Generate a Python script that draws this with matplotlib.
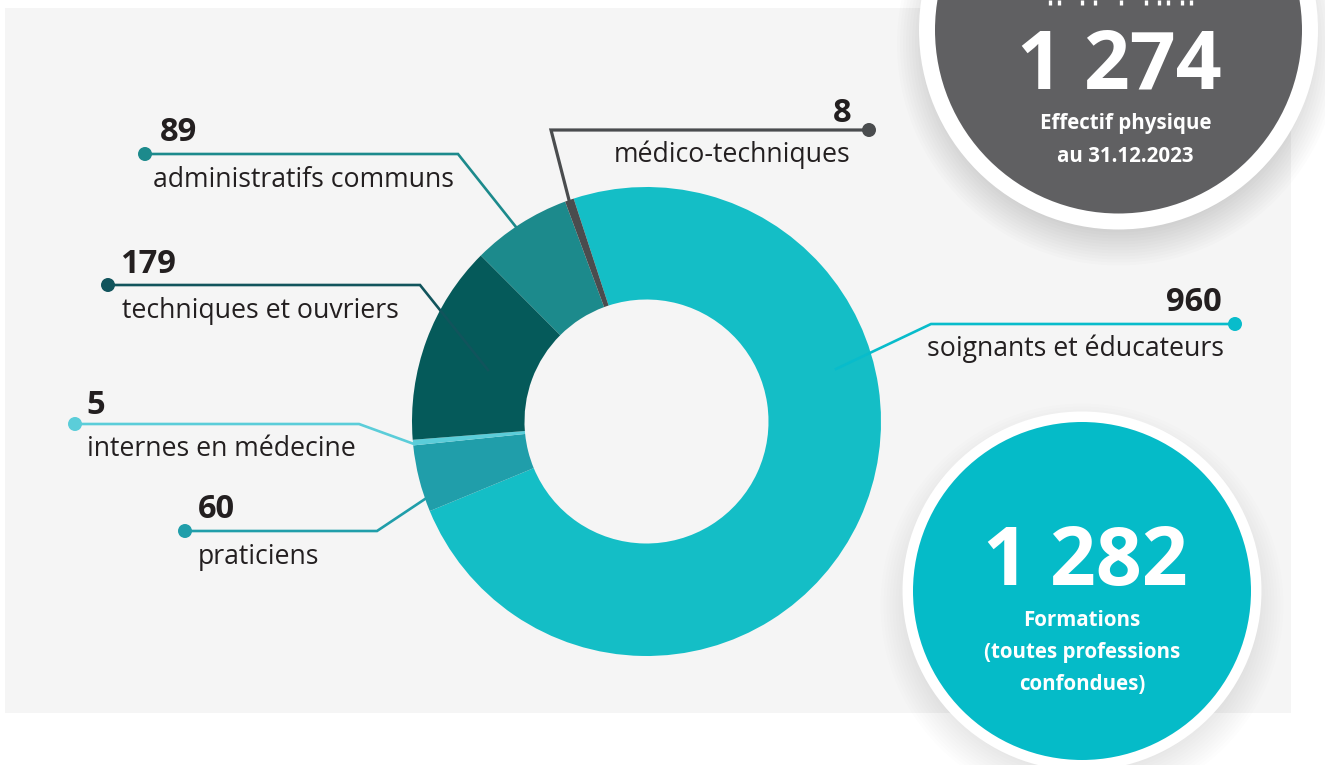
import matplotlib
matplotlib.use("Agg")
import matplotlib.pyplot as plt
from matplotlib.patches import Circle, Rectangle

# donut data, clockwise from the big slice
categories = ["soignants et éducateurs", "praticiens", "internes en médecine",
              "techniques et ouvriers", "administratifs communs", "médico-techniques"]
values = [960, 60, 5, 179, 89, 8]
colors = ["#14bec6", "#209eaa", "#5bcdd9", "#055a5a", "#1c8a8c", "#4a4c4e"]
line_colors = ["#08bccb", "#209eaa", "#5bcdd9", "#11545c", "#1c8a8c", "#4a4c4e"]

W, H = 1325, 765
plt.rcParams["font.family"] = ["Open Sans", "DejaVu Sans"]
TXT = "#231f20"


def Y(py):
    return H - py


fig = plt.figure(figsize=(W / 100, H / 100), dpi=100)
ax = fig.add_axes([0, 0, 1, 1])

ax.add_patch(Rectangle((5, Y(713)), 1286, 705, fc="#f5f5f5", ec="none", zorder=0))

ax.pie(values, colors=colors, center=(646.5, Y(421.5)), radius=234.5, startangle=108.1,
       counterclock=False, frame=True, wedgeprops=dict(width=112.5, linewidth=0))
ax.set_xlim(0, W)
ax.set_ylim(0, H)
ax.set_axis_off()


def leader(pts, color, dot, label, num, lx, ly, nx, ny, ha="left", lw=1.9):
    xs = [p[0] for p in pts]
    ys = [Y(p[1]) for p in pts]
    ax.plot(xs, ys, color=color, lw=lw, zorder=4, solid_joinstyle="miter")
    ax.add_patch(Circle((dot[0], Y(dot[1])), 7, fc=color, ec="none", zorder=5))
    ax.text(lx, Y(ly), label, fontsize=19.2, color=TXT, ha=ha, va="center", zorder=6)
    ax.text(nx, Y(ny), str(num), fontsize=23.5, fontweight="bold", color=TXT, ha=ha, va="center", zorder=6)


leader([(1235, 324), (931, 324), (836, 369)], line_colors[0], (1235, 324), categories[0], values[0], 1224, 349, 1222, 302, "right")
leader([(185, 531), (377, 531), (428, 497)], line_colors[1], (185, 531), categories[1], values[1], 198, 557, 198, 509)
leader([(75, 424), (359, 424), (414, 444)], line_colors[2], (75, 424), categories[2], values[2], 87, 449, 86, 405)
leader([(108, 285), (420, 285), (488, 370)], line_colors[3], (108, 285), categories[3], values[3], 122, 311, 120, 264)
leader([(145, 154), (458, 154), (516, 227)], line_colors[4], (145, 154), categories[4], values[4], 153, 180, 160, 132)
leader([(869, 130), (551, 130), (569, 200)], line_colors[5], (869, 130), categories[5], values[5], 851, 155, 851, 113, "right", lw=2.3)


def stat_circle(cx, cy, r_out, r_in, color, shadow):
    # soft shadow as a stack of faint discs
    for i in range(14):
        ax.add_patch(Circle((cx, Y(cy + 14)), r_out + 22 - i * 3, fc="#000000", ec="none", alpha=shadow, zorder=7))
    ax.add_patch(Circle((cx, Y(cy)), r_out, fc="white", ec="none", zorder=8))
    ax.add_patch(Circle((cx, Y(cy)), r_in, fc=color, ec="none", zorder=9))


stat_circle(1118.5, 30, 199.5, 183.5, "#606062", 0.012)
stat_circle(1082, 591, 179.5, 169, "#05bbc8", 0.009)

# bottoms of a text line cut off by the top edge, the words can't be read
stub_x = [1050, 1059, 1082, 1095, 1121, 1146, 1159, 1168, 1182, 1191]
ax.vlines(stub_x, Y(5), Y(0), color="white", lw=2.4, zorder=10)

ax.text(1119.5, Y(67), "1 274", fontsize=58, fontweight="bold", color="white", ha="center", va="center", zorder=10)
ax.text(1125.5, Y(123.5), "Effectif physique", fontsize=14.8, fontweight="bold", color="white", ha="center", va="center", zorder=10)
ax.text(1125.5, Y(156.5), "au 31.12.2023", fontsize=14.8, fontweight="bold", color="white", ha="center", va="center", zorder=10)

ax.text(1085.5, Y(564), "1 282", fontsize=58, fontweight="bold", color="white", ha="center", va="center", zorder=10)
for txt, py in zip(["Formations", "(toutes professions", "confondues)"], [620.5, 652.5, 684.5]):
    ax.text(1082, Y(py), txt, fontsize=14.8, fontweight="bold", color="white", ha="center", va="center", zorder=10)

fig.savefig("out.png", dpi=100)
